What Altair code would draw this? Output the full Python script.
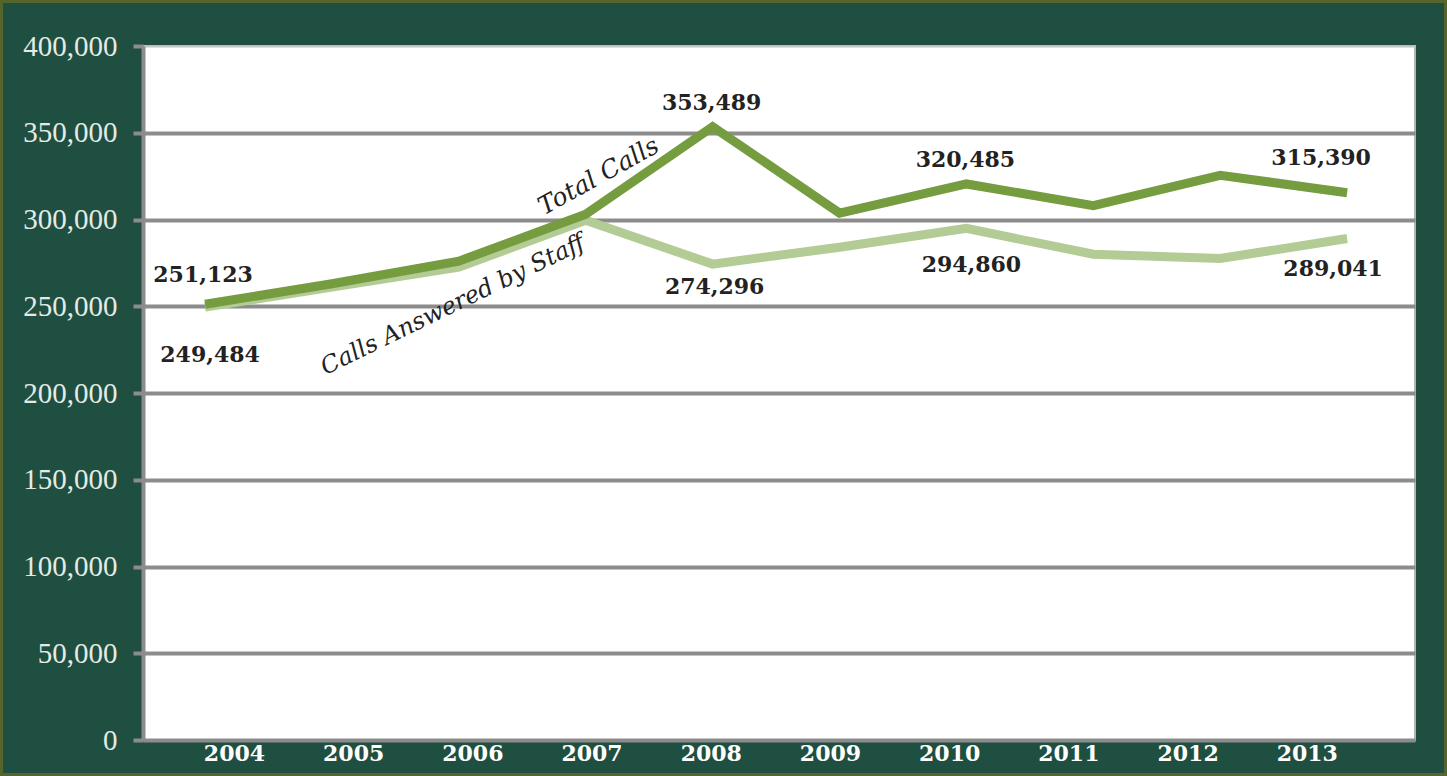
import altair as alt
import pandas as pd

# ---- data ----
years = [2004, 2005, 2006, 2007, 2008, 2009, 2010, 2011, 2012, 2013]
total_calls = [251123, 263000, 276000, 303000, 353489, 303700, 320485, 308000, 325500, 315390]
staff_calls = [249484, 261000, 272500, 299500, 274296, 284000, 294860, 280000, 277500, 289041]
series_names = ["Total Calls", "Calls Answered by Staff"]

label_years = [2004, 2004, 2008, 2008, 2010, 2010, 2013, 2013]
label_values = [251123, 249484, 353489, 274296, 320485, 294860, 315390, 289041]
label_texts = ["251,123", "249,484", "353,489", "274,296", "320,485", "294,860", "315,390", "289,041"]
# pixel offsets of the value labels from their points (styling)
label_dx = [-2, 5, -1, 2, -1, 5, -26, -14]
label_dy = [-29, 48, -24, 23, -24, 37, -35, 30]

W, H = 1272, 694
BG = "#1f4f40"
DARK = "#769c40"
LIGHT = "#b3cb95"
GRID = "#8c8c8c"

rows = []
for y, t, s in zip(years, total_calls, staff_calls):
    rows.append({"year": y, "series": series_names[0], "value": t})
    rows.append({"year": y, "series": series_names[1], "value": s})
df = pd.DataFrame(rows)

xdata = alt.Scale(domain=[2003.511, 2013.535], nice=False, zero=False)
yscale = alt.Scale(domain=[0, 400000], nice=False)

yaxis = alt.Axis(
    values=list(range(0, 400001, 50000)),
    format=",d",
    title=None,
    grid=True,
    gridColor={"condition": {"test": "datum.value === 400000", "value": "#c4c4c4"}, "value": GRID},
    gridWidth={"condition": {"test": "datum.value === 400000", "value": 2}, "value": 4},
    domain=True,
    domainColor=GRID,
    domainWidth=4,
    ticks=True,
    tickColor=GRID,
    tickWidth=4,
    tickSize=10,
    labelPadding=16,
    labelFont="Liberation Serif",
    labelFontSize=29,
    labelColor="#e4ebe6",
)

def line_layer(name, color):
    return alt.Chart(df[df["series"] == name]).mark_line(
        color=color, strokeWidth=9, strokeCap="butt", strokeJoin="miter"
    ).encode(
        x=alt.X("year:Q", scale=xdata, axis=None),
        y=alt.Y("value:Q", scale=yscale, axis=yaxis),
    )

staff_line = line_layer(series_names[1], LIGHT)
total_line = line_layer(series_names[0], DARK)

label_layers = []
for yr, v, t, dx, dy in zip(label_years, label_values, label_texts, label_dx, label_dy):
    d = pd.DataFrame({"year": [yr], "value": [v], "text": [t]})
    label_layers.append(
        alt.Chart(d).mark_text(
            font="DejaVu Serif", fontWeight="bold", fontSize=22, color="#222222",
            dx=dx, dy=dy, baseline="middle", align="center"
        ).encode(
            x=alt.X("year:Q", scale=xdata, axis=None),
            y=alt.Y("value:Q", scale=yscale),
            text="text:N",
        )
    )

ann_total = alt.Chart(pd.DataFrame({"year": [2007.10], "value": [325000], "text": [series_names[0]]})).mark_text(
    font="DejaVu Serif", fontStyle="italic", fontSize=25, color="#222222", angle=331,
    baseline="middle", align="center"
).encode(
    x=alt.X("year:Q", scale=xdata, axis=None),
    y=alt.Y("value:Q", scale=yscale),
    text="text:N",
)
ann_staff = alt.Chart(pd.DataFrame({"year": [2005.954], "value": [250600], "text": [series_names[1]]})).mark_text(
    font="DejaVu Serif", fontStyle="italic", fontSize=24, color="#222222", angle=334,
    baseline="middle", align="center"
).encode(
    x=alt.X("year:Q", scale=xdata, axis=None),
    y=alt.Y("value:Q", scale=yscale),
    text="text:N",
)

frame = alt.Chart(pd.DataFrame({"k": [0]})).mark_rect(
    fill=None, stroke="#56652c", strokeWidth=3
).encode(
    x=alt.value(-141.5), x2=alt.value(W + 30.5),
    y=alt.value(-44.5), y2=alt.value(H + 34.5),
)

data_layers = alt.layer(staff_line, total_line, *label_layers, ann_total, ann_staff, frame)

xaxis_layer = alt.Chart(pd.DataFrame({"year": years})).mark_text(text="", opacity=0).encode(
    x=alt.X(
        "year:Q",
        scale=alt.Scale(domain=[2003.237, 2013.908], nice=False, zero=False),
        axis=alt.Axis(
            values=years, format="d", title=None, grid=False, ticks=False, domain=False,
            labelFont="DejaVu Serif", labelFontWeight="bold", labelFontSize=22,
            labelColor="#ffffff", labelPadding=3,
        ),
    ),
    y=alt.value(0),
)

chart = alt.layer(xaxis_layer, data_layers).resolve_scale(x="independent").properties(
    width=W, height=H,
    background=BG,
    padding={"left": 143, "top": 46, "right": 32, "bottom": 36},
    autosize=alt.AutoSizeParams(type="none"),
).configure_view(
    fill="#ffffff", stroke="#b4b4b4", strokeWidth=2
)

chart.save("out.html", embed_options={"renderer": "svg", "actions": False})
